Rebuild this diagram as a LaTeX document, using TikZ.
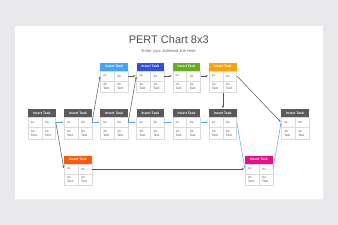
\documentclass[tikz,border=0pt]{standalone}
\usepackage{fontspec}
\setmainfont{Liberation Sans}
\usetikzlibrary{arrows.meta,calc}
\definecolor{bgc}{HTML}{E9E9EB}
\definecolor{gridc}{HTML}{DADADA}
\definecolor{cellc}{HTML}{4A4A4A}
\definecolor{titlec}{HTML}{4F4F4F}
\definecolor{subc}{HTML}{6A6A6A}
\definecolor{hgray}{HTML}{5A5A5A}
\definecolor{hlblue}{HTML}{42A5F5}
\definecolor{hdblue}{HTML}{3050E2}
\definecolor{hgreen}{HTML}{68AD22}
\definecolor{horange}{HTML}{FFA300}
\definecolor{hred}{HTML}{FF5A0A}
\definecolor{hpink}{HTML}{EC0E88}
\definecolor{arrb}{HTML}{5AAAF0}
\definecolor{arrd}{HTML}{555555}
\tikzset{
  hdr/.style={inner sep=0pt, minimum width=27.7pt, minimum height=8.4pt, text=white,
    font=\bfseries\fontsize{3.4}{3.8}\selectfont},
  rowa/.style={draw=gridc, line width=0.4pt, inner sep=0pt, minimum width=27.7pt, minimum height=10pt},
  rowb/.style={draw=gridc, line width=0.4pt, inner sep=0pt, minimum width=27.7pt, minimum height=11.6pt},
  gridline/.style={draw=gridc, line width=0.4pt},
  cell/.style={inner sep=0pt, text=cellc, font=\fontsize{3.2}{3.8}\selectfont, align=left, anchor=west},
  bluearrow/.style={draw=arrb, line width=0.5pt, -{Stealth[length=2.2pt,width=2pt]}, shorten >=0.8pt},
  darkarrow/.style={draw=arrd, line width=0.5pt, -{Stealth[length=2.2pt,width=2pt]}, shorten >=0.8pt},
}
\newcommand\pertbox[4]{%
  \node[hdr, fill=#4, anchor=north west] (#1-h) at (#2,#3) {Insert Task};
  \node[rowa, anchor=north west] (#1-r1) at (#2,#3+8.4) {};
  \node[rowb, anchor=north west] (#1-r2) at (#2,#3+18.4) {};
  \draw[gridline] (#1-r1.north) -- (#1-r2.south);
  \node[cell] (#1-c1) at ($(#1-r1.west)+(3,0)$) {xx};
  \node[cell] (#1-c2) at ($(#1-r1.center)+(3,0)$) {Xx};
  \node[cell] (#1-c3) at ($(#1-r2.west)+(3,0)$) {Xx\\Text};
  \node[cell] (#1-c4) at ($(#1-r2.center)+(3,0)$) {Xx\\Text};
}
\begin{document}
\begin{tikzpicture}[x=1pt,y=-1pt]
\useasboundingbox (0,0) rectangle (338,225);
\fill[bgc] (0,0) rectangle (338,225);
\fill[black!6] (15.2,26.6) rectangle (323.4,200.3);
\fill[white] (14.7,26) rectangle (322.7,199.3);
\node[font=\fontsize{11}{13}\selectfont, text=titlec] (title) at (168.7,40) {PERT Chart 8x3};
\node[font=\fontsize{4.2}{5}\selectfont, text=subc] (sub) at (168.7,51.3) {Enter your subhead line here};
% top row
\pertbox{t1}{100.1}{62.3}{hlblue}
\pertbox{t2}{136.3}{62.3}{hdblue}
\pertbox{t3}{172.5}{62.3}{hgreen}
\pertbox{t4}{208.7}{62.3}{horange}
% middle row
\pertbox{m1}{27.7}{108.7}{hgray}
\pertbox{m2}{63.9}{108.7}{hgray}
\pertbox{m3}{100.1}{108.7}{hgray}
\pertbox{m4}{136.3}{108.7}{hgray}
\pertbox{m5}{172.5}{108.7}{hgray}
\pertbox{m6}{208.7}{108.7}{hgray}
\pertbox{m7}{281.1}{108.7}{hgray}
% bottom row
\pertbox{b1}{63.9}{155.3}{hred}
\pertbox{b2}{244.9}{155.3}{hpink}
% blue connectors
\draw[bluearrow] (m1-r1.east) -- (m2-r1.west);
\draw[bluearrow] (m2-r1.east) -- (m3-r1.west);
\draw[bluearrow] (m3-r1.east) -- (m4-r1.west);
\draw[bluearrow] (m4-r1.east) -- (m5-r1.west);
\draw[bluearrow] (m5-r1.east) -- (m6-r1.west);
\draw[bluearrow] (m6-r1.east) -- (b2-r1.west);
\draw[bluearrow] (b2-r1.east) -- (m7-r1.west);
% dark connectors
\draw[darkarrow] (m1-r1.east) -- (b1-r1.west);
\draw[darkarrow] (m2-r1.east) -- (t1-r1.west);
\draw[darkarrow] (m3-r1.east) -- (t2-r1.west);
\draw[darkarrow] (t1-r1.east) -- (t2-r1.west);
\draw[darkarrow] (t2-r1.east) -- (t3-r1.west);
\draw[darkarrow] (t3-r1.east) -- (t4-r1.west);
\draw[darkarrow] (t4-r2.south) -- (m6-h.north);
\draw[darkarrow] (t4-r1.east) -- (m7-r1.west);
\draw[darkarrow] (b1-r1.east) -- (b2-r1.west);
\end{tikzpicture}
\end{document}
